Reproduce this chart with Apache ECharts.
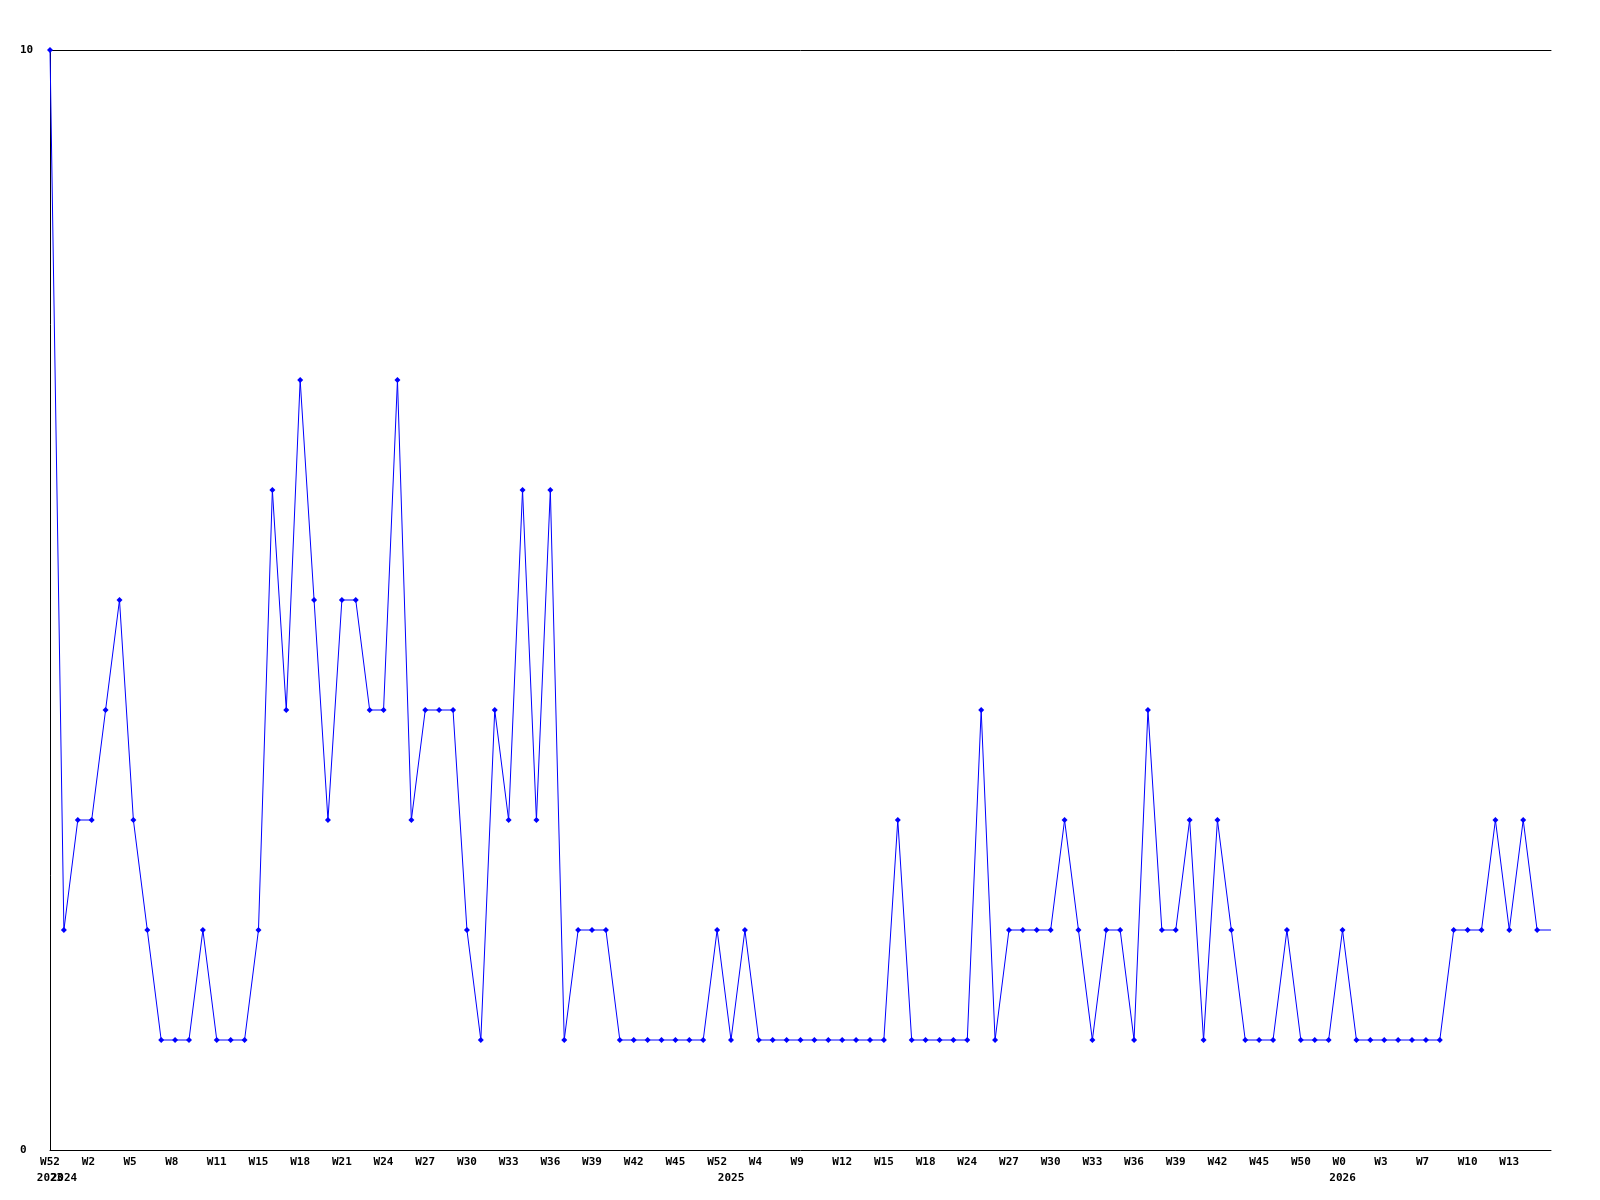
<!DOCTYPE html>
<html>
<head>
<meta charset="utf-8">
<style>html,body{margin:0;padding:0;background:#fff;}#c{width:1600px;height:1200px;}</style>
<script src="https://cdn.jsdelivr.net/npm/echarts@6/dist/echarts.min.js"></script>
</head>
<body>
<div id="c"></div>
<script>
// values per week (last one is the clipped edge point, drawn without marker)
const values = [
  10,2,3,3,4,5,3,2,1,1,
  1,2,1,1,1,2,6,4,7,5,
  3,5,5,4,4,7,3,4,4,4,
  2,1,4,3,6,3,6,1,2,2,
  2,1,1,1,1,1,1,1,2,1,
  2,1,1,1,1,1,1,1,1,1,
  1,3,1,1,1,1,1,4,1,2,
  2,2,2,3,2,1,2,2,1,4,
  2,2,3,1,3,2,1,1,1,2,
  1,1,1,2,1,1,1,1,1,1,
  1,2,2,2,3,2,3,2,2
];
// week tick labels, shown on every third category
const weekTicks = ['W52','W2','W5','W8','W11','W15','W18','W21','W24','W27','W30','W33','W36',
  'W39','W42','W45','W52','W4','W9','W12','W15','W18','W24','W27','W30','W33','W36',
  'W39','W42','W45','W50','W0','W3','W7','W10','W13'];
// year tick labels and the category index they sit at
const yearTicks = ['2023','2024','2025','2026'];
const yearIndex = [0, 1, 49, 93];
const yTicks = [0, 10];

const categories = values.map((v, i) => 'c' + i);
const font = { fontFamily: 'DejaVu Sans Mono', fontWeight: 'bold', fontSize: 11, color: '#000' };

function yearAxis(parity) {
  return {
    type: 'category', data: categories, boundaryGap: false, position: 'bottom',
    axisLine: { show: false }, axisTick: { show: false }, splitLine: { show: false },
    axisLabel: Object.assign({
      interval: function (idx) { const k = yearIndex.indexOf(idx); return k >= 0 && k % 2 === parity; },
      margin: 23,
      hideOverlap: false,
      formatter: function (val, idx) {
        const k = yearIndex.indexOf(idx);
        return (k >= 0 && k % 2 === parity) ? yearTicks[k] : '';
      }
    }, font)
  };
}

const chart = echarts.init(document.getElementById('c'), null, { renderer: 'canvas' });
chart.setOption({
  animation: false,
  backgroundColor: '#fff',
  grid: { left: 50, top: 50, right: 49, bottom: 50, containLabel: false },
  xAxis: [
    {
      type: 'category', data: categories, boundaryGap: false, position: 'bottom',
      axisLine: { show: true, lineStyle: { color: '#000', width: 1 } },
      axisTick: { show: false },
      splitLine: { show: false },
      axisLabel: Object.assign({
        interval: 2, margin: 7, hideOverlap: false,
        formatter: function (val, idx) {
          const k = idx / 3;
          const s = weekTicks[k] || '';
          return s.length < 3 && s.length > 0 ? s + ' '.repeat(3 - s.length) : s;
        }
      }, font)
    },
    yearAxis(0),
    yearAxis(1),
    {
      type: 'category', data: categories, boundaryGap: false, position: 'top',
      axisLine: { show: true, lineStyle: { color: '#000', width: 1 } },
      axisTick: { show: false }, axisLabel: { show: false }, splitLine: { show: false }
    }
  ],
  yAxis: {
    type: 'value', min: yTicks[0], max: yTicks[1], interval: 10,
    axisLine: { show: true, lineStyle: { color: '#000', width: 1 } },
    axisTick: { show: false },
    splitLine: { show: false },
    axisLabel: Object.assign({ align: 'left', margin: 30 }, font)
  },
  series: [{
    type: 'line',
    xAxisIndex: 0,
    data: values.map((v, i) => i === values.length - 1 ? { value: v, symbol: 'none' } : v),
    symbol: 'diamond',
    symbolSize: 6,
    showAllSymbol: true,
    lineStyle: { color: '#0000FF', width: 1 },
    itemStyle: { color: '#0000FF' },
    clip: false
  }]
});
</script>
</body>
</html>
